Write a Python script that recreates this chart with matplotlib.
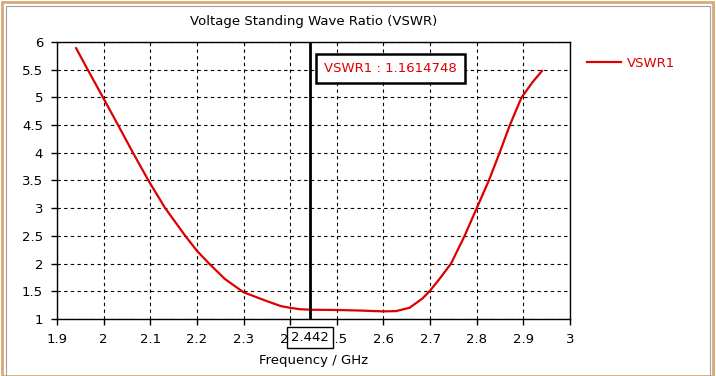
import matplotlib.pyplot as plt
from matplotlib.patches import Rectangle

# data
freq = [1.941, 1.966, 2.0, 2.031, 2.063, 2.096, 2.132, 2.175, 2.2, 2.226,
        2.26, 2.3, 2.35, 2.38, 2.4, 2.42, 2.442, 2.5, 2.55, 2.6, 2.627, 2.656,
        2.684, 2.7, 2.72, 2.745, 2.774, 2.8, 2.826, 2.849, 2.871, 2.896, 2.92, 2.94]
vswr = [5.89, 5.5, 4.98, 4.5, 4.0, 3.5, 3.0, 2.5, 2.23, 2.0,
        1.72, 1.48, 1.32, 1.23, 1.20, 1.175, 1.165, 1.16, 1.15, 1.135, 1.14, 1.20,
        1.37, 1.51, 1.72, 2.0, 2.5, 3.0, 3.5, 4.0, 4.5, 5.0, 5.28, 5.48]
marker_x = 2.442
marker_val = 1.1614748
xticks = [1.9, 2, 2.1, 2.2, 2.3, 2.4, 2.5, 2.6, 2.7, 2.8, 2.9, 3]
xticklabels = ['1.9', '2', '2.1', '2.2', '2.3', '2.4', '2.5', '2.6', '2.7', '2.8', '2.9', '3']
yticks = [1, 1.5, 2, 2.5, 3, 3.5, 4, 4.5, 5, 5.5, 6]
yticklabels = ['1', '1.5', '2', '2.5', '3', '3.5', '4', '4.5', '5', '5.5', '6']

red = '#DD0000'
plt.rcParams['font.family'] = ['DejaVu Sans']

fig = plt.figure(figsize=(7.16, 3.76), dpi=100)
ax = fig.add_axes([0.0796, 0.152, 0.7165, 0.736])

ax.plot(freq, vswr, color=red, lw=1.6, label='VSWR1', solid_joinstyle='round')
ax.axvline(marker_x, color='black', lw=2)

ax.set_xlim(1.9, 3)
ax.set_ylim(1, 6)
ax.set_xticks(xticks)
ax.set_xticklabels(xticklabels, fontsize=9.5)
ax.set_yticks(yticks)
ax.set_yticklabels(yticklabels, fontsize=9.5)
ax.tick_params(direction='out', length=4, width=1, color='black', pad=6)
ax.grid(True, color='black', linestyle=(0, (3, 3)), lw=0.8)
for s in ax.spines.values():
    s.set_linewidth(1)

ax.set_title('Voltage Standing Wave Ratio (VSWR)', fontsize=9.5, pad=12)
ax.set_xlabel('Frequency / GHz', fontsize=9.5, labelpad=6)

# marker readout
ax.text(0.521, 0.906, 'VSWR1 : %.7f' % marker_val, transform=ax.transAxes,
        color=red, fontsize=9.5, va='center', ha='left',
        bbox=dict(facecolor='white', edgecolor='black', lw=1.8, boxstyle='square,pad=0.6'))
ax.text(marker_x, -0.066, '%.3f' % marker_x, transform=ax.get_xaxis_transform(),
        fontsize=9.5, ha='center', va='center', zorder=5,
        bbox=dict(facecolor='white', edgecolor='black', lw=1, boxstyle='square,pad=0.3'))

ax.legend(loc='upper left', bbox_to_anchor=(1.01, 0.99), frameon=False,
          labelcolor=red, fontsize=9.5, handlelength=2.6, handletextpad=0.4)

# window frame
fig.patches.append(Rectangle((0.003, 0.0), 0.993, 0.995, transform=fig.transFigure,
                             fill=False, edgecolor='#D9A878', lw=2))
fig.patches.append(Rectangle((0.008, 0.0), 0.983, 0.985, transform=fig.transFigure,
                             fill=False, edgecolor='#A0A0A0', lw=0.8))

fig.savefig('out.png', dpi=100)
